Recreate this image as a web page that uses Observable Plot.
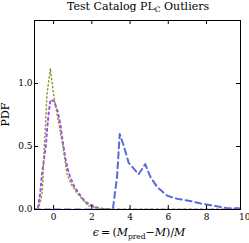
<!DOCTYPE html>
<html>
<head>
<meta charset="utf-8">
<script src="https://cdn.jsdelivr.net/npm/d3@7"></script>
<script src="https://cdn.jsdelivr.net/npm/@observablehq/plot@0.6"></script>
<style>
  body { margin: 0; background: #fff; }
  svg { display: block; }
</style>
</head>
<body>
<div id="chart"></div>
<script>
// Data
const greenX = [-1, -0.8, -0.61, -0.55, -0.52, -0.43, -0.35, -0.17, 0, 0.31, 0.52, 0.70, 0.96, 1.23, 1.57, 1.83, 2.09, 2.5, 3, 4, 6, 8, 10];
const greenY = [0, 0, 0.12, 0.26, 0.41, 0.65, 0.91, 1.12, 0.91, 0.65, 0.47, 0.28, 0.19, 0.13, 0.07, 0.03, 0.02, 0.005, 0, 0, 0, 0, 0];
const purpleX = [-1, -0.83, -0.7, -0.61, -0.4, -0.35, -0.26, -0.17, 0.02, 0.21, 0.35, 0.44, 0.61, 0.79, 1.05, 1.40, 1.66, 2.18, 2.6, 3, 4, 6, 8, 10];
const purpleY = [0, 0, 0.13, 0.28, 0.51, 0.62, 0.76, 0.87, 0.86, 0.78, 0.68, 0.58, 0.41, 0.29, 0.19, 0.11, 0.06, 0.02, 0.005, 0, 0, 0, 0, 0];
const blueX = [-1, 3.1, 3.32, 3.46, 3.66, 3.93, 4.45, 4.8, 5.06, 5.41, 5.94, 6.46, 7.07, 7.77, 8.38, 9.08, 9.67, 10];
const blueY = [0, 0, 0.26, 0.60, 0.51, 0.37, 0.28, 0.36, 0.26, 0.18, 0.11, 0.085, 0.07, 0.045, 0.03, 0.01, 0.01, 0];
const xTicks = [0, 2, 4, 6, 8, 10];
const yTicks = [0, 0.5, 1.0];
const xDomain = [-1, 9.78];
const yDomain = [0, 1.5];

const W = 249, H = 243;
const mL = 34, mR = 9, mT = 20, mB = 34;
const innerW = W - mL - mR, innerH = H - mT - mB;
const font = "DejaVu Serif";

const toRows = (xs, ys) => xs.map((x, i) => ({x, y: ys[i]}));
const green = toRows(greenX, greenY);
const purple = toRows(purpleX, purpleY);
const blue = toRows(blueX, blueY);
const tickIn = xTicks.filter(t => t >= xDomain[0] && t <= xDomain[1]);

const chart = Plot.plot({
  width: W, height: H,
  marginLeft: mL, marginRight: mR, marginTop: mT, marginBottom: mB,
  style: {fontFamily: font, fontSize: "9px", background: "#fff", color: "#000"},
  x: {domain: xDomain, axis: null},
  y: {domain: yDomain, axis: null},
  marks: [
    Plot.line(blue, {x: "x", y: "y", stroke: "#5a6ad8", strokeWidth: 2, strokeDasharray: "6,4", clip: true}),
    Plot.line(purple, {x: "x", y: "y", stroke: "#a050e0", strokeWidth: 2, strokeDasharray: "2,3.5", clip: true}),
    Plot.line(green, {x: "x", y: "y", stroke: "#8a9a3c", strokeWidth: 1.5, strokeDasharray: "1.2,2.8", clip: true}),
    Plot.frame({stroke: "#000", strokeWidth: 1}),
    Plot.tickX(tickIn, {x: d => d, insetTop: innerH - 4, stroke: "#000"}),
    Plot.tickX(tickIn, {x: d => d, insetBottom: innerH - 4, stroke: "#000"}),
    Plot.tickY(yTicks, {y: d => d, insetRight: innerW - 4, stroke: "#000"}),
    Plot.tickY(yTicks, {y: d => d, insetLeft: innerW - 4, stroke: "#000"}),
    Plot.axisX(xTicks, {anchor: "bottom", tickSize: 0, tickPadding: 4, tickFormat: d => String(d), label: null}),
    Plot.axisY(yTicks, {anchor: "left", tickSize: 0, tickPadding: 2, tickFormat: d => d.toFixed(1), label: null})
  ]
});
document.getElementById("chart").appendChild(chart);

const svg = d3.select(chart);
const cx = mL + innerW / 2;
// Title
const title = svg.append("text")
  .attr("x", cx + 1).attr("y", 10)
  .attr("text-anchor", "middle")
  .attr("font-family", font).attr("font-size", 11).attr("fill", "#000");
title.append("tspan").text("Test Catalog PL");
title.append("tspan").attr("font-size", 7.5).attr("dy", 2).text("C");
title.append("tspan").attr("dy", -2).text(" Outliers");
// Y label
svg.append("text")
  .attr("transform", `translate(9,${mT + innerH / 2}) rotate(-90)`)
  .attr("text-anchor", "middle")
  .attr("font-family", font).attr("font-size", 11).attr("fill", "#000")
  .text("PDF");
// X label
const xl = svg.append("text")
  .attr("x", cx + 2).attr("y", 236)
  .attr("text-anchor", "middle")
  .attr("font-family", font).attr("font-size", 11).attr("fill", "#000");
xl.append("tspan").attr("font-style", "italic").text("ϵ");
xl.append("tspan").text("\u2009=\u2009(");
xl.append("tspan").attr("font-style", "italic").text("M");
xl.append("tspan").attr("font-size", 7.5).attr("dy", 2.5).text("pred");
xl.append("tspan").attr("dy", -2.5).text("\u2212");
xl.append("tspan").attr("font-style", "italic").text("M");
xl.append("tspan").text(")/");
xl.append("tspan").attr("font-style", "italic").text("M");
</script>
</body>
</html>
